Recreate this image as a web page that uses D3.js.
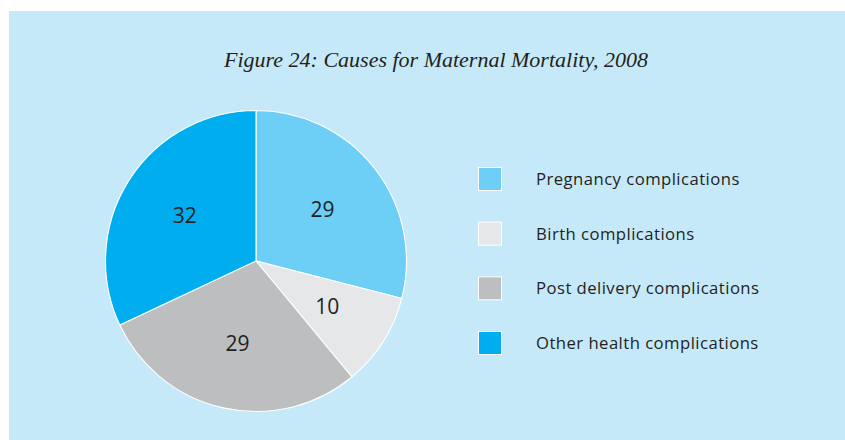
<!DOCTYPE html>
<html>
<head>
<meta charset="utf-8">
<script src="https://cdn.jsdelivr.net/npm/d3@7"></script>
<style>
  body { margin: 0; background: #fff; }
  svg { display: block; }
</style>
</head>
<body>
<div class="chart-wrapper"></div>
<script>
const categories = ['Pregnancy complications', 'Birth complications', 'Post delivery complications', 'Other health complications']
const values = [29, 10, 29, 32]
const colors = ['#6dcff6', '#e6e7e8', '#bcbec0', '#00aeef']
const title = 'Figure 24: Causes for Maternal Mortality, 2008'

let width = 845;
let height = 440;

let svg = d3.select('.chart-wrapper').append('svg')
.attr('width', width)
.attr('height', height)

// panel background
svg.append('rect')
.attr('x', 9)
.attr('y', 11)
.attr('width', width - 9)
.attr('height', height - 11)
.attr('fill', '#c6e9f9')

svg.append('text')
.attr('x', 436)
.attr('y', 67)
.attr('text-anchor', 'middle')
.attr('font-family', '"Liberation Serif", serif')
.attr('font-style', 'italic')
.attr('font-size', '22px')
.attr('fill', '#231f20')
.text(title)

let radius = 150.5;
let cx = 256, cy = 261;

let pie = d3.pie().sort(null).value(d => d)
let arc = d3.arc().innerRadius(0).outerRadius(radius)
let labelArc = d3.arc().innerRadius(radius * 0.56).outerRadius(radius * 0.56)

let data = pie(values)

let g = svg.append('g').attr('transform', `translate(${cx},${cy})`)

g.selectAll('.slice')
.data(data)
.enter()
.append('path')
.attr('class', 'slice')
.attr('d', arc)
.attr('fill', (d, i) => colors[i])
.attr('stroke', '#ffffff')
.attr('stroke-width', 1.1)

g.selectAll('.val')
.data(data)
.enter()
.append('text')
.attr('class', 'val')
.attr('transform', d => `translate(${labelArc.centroid(d)})`)
.attr('text-anchor', 'middle')
.attr('dy', '0.36em')
.attr('font-family', '"Open Sans", sans-serif')
.attr('font-size', '21px')
.attr('fill', '#231f20')
.text(d => d.data)

let legendY = d3.scalePoint()
.domain(categories)
.range([179, 343])

let legend = svg.append('g')
.selectAll('.legend')
.data(categories)
.enter()
.append('g')
.attr('class', 'legend')
.attr('transform', d => `translate(478,${legendY(d)})`)

legend.append('rect')
.attr('x', 0.5)
.attr('y', -11.5)
.attr('width', 23)
.attr('height', 23)
.attr('fill', (d, i) => colors[i])
.attr('stroke', '#ffffff')
.attr('stroke-width', 1)

legend.append('text')
.attr('x', 58)
.attr('dy', '0.36em')
.attr('font-family', '"Open Sans", sans-serif')
.attr('font-size', '16.7px')
.attr('letter-spacing', '0.45px')
.attr('fill', '#231f20')
.text(d => d)
</script>
</body>
</html>
